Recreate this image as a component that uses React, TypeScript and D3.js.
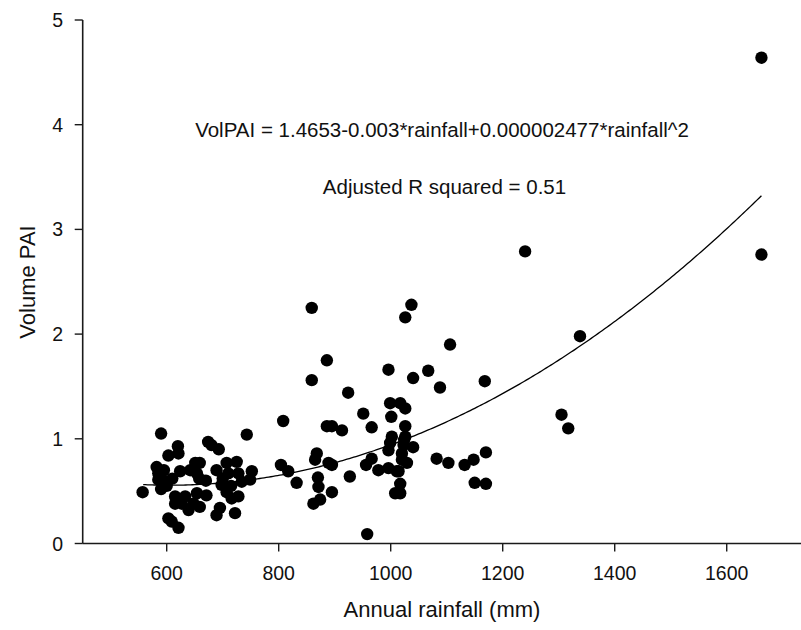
import React from "react";
import * as d3 from "d3";

const rainfall: number[] = [
  557, 590, 620, 603, 621, 582, 585, 591, 597, 585, 624, 642, 651, 654, 615, 627, 615, 633, 639, 648, 654, 603, 621, 609,
  595, 600, 610, 590,
  674, 743, 693, 659, 658, 689, 707, 725, 710, 728, 752, 749, 734, 698, 707, 716, 728, 671, 659, 695, 689, 722,
  680, 670, 700, 715,
  808, 804, 817, 832, 886, 895, 913, 868, 865, 889, 895, 870, 871, 895, 862, 874, 927,
  859, 886, 859, 924, 951, 966, 958, 966, 956, 978, 996, 1014,
  1037, 1026, 1106, 996, 1040, 1067, 1088, 999, 1017, 1026, 1001, 1026, 1002, 999, 996, 1026, 1023, 1020, 1040, 1029,
  1017, 1017, 1008, 1082, 1103, 1132, 1148, 1170, 1150, 1170, 1168, 1240, 1305, 1317, 1338, 1662, 1662,
  1011, 1020, 1024,
];
const volumePAI: number[] = [
  0.49, 1.05, 0.93, 0.84, 0.86, 0.73, 0.67, 0.62, 0.59, 0.61, 0.69, 0.70, 0.77, 0.67, 0.45, 0.38, 0.38, 0.45, 0.32, 0.38, 0.48, 0.24, 0.15, 0.21,
  0.70, 0.55, 0.62, 0.52,
  0.97, 1.04, 0.90, 0.77, 0.62, 0.70, 0.77, 0.78, 0.67, 0.67, 0.69, 0.61, 0.59, 0.56, 0.49, 0.43, 0.45, 0.46, 0.35, 0.34, 0.27, 0.29,
  0.94, 0.60, 0.62, 0.55,
  1.17, 0.75, 0.69, 0.58, 1.12, 1.12, 1.08, 0.86, 0.80, 0.77, 0.75, 0.63, 0.54, 0.49, 0.38, 0.42, 0.64,
  2.25, 1.75, 1.56, 1.44, 1.24, 1.11, 0.09, 0.81, 0.75, 0.70, 0.72, 0.69,
  2.28, 2.16, 1.90, 1.66, 1.58, 1.65, 1.49, 1.34, 1.34, 1.29, 1.21, 1.12, 1.02, 0.96, 0.89, 1.02, 0.94, 0.86, 0.92, 0.77,
  0.57, 0.48, 0.48, 0.81, 0.77, 0.75, 0.80, 0.87, 0.58, 0.57, 1.55, 2.79, 1.23, 1.10, 1.98, 4.64, 2.76,
  0.69, 0.80, 0.99,
];

const xTicks: number[] = [600, 800, 1000, 1200, 1400, 1600];
const yTicks: number[] = [0, 1, 2, 3, 4, 5];
// regression coefficients shown in the chart: a + b*x + c*x^2
const coefficients: number[] = [1.4653, -0.003, 0.000002477];
const fitRange: number[] = [558, 1662];

const equationText = "VolPAI = 1.4653-0.003*rainfall+0.000002477*rainfall^2";
const r2Text = "Adjusted R squared = 0.51";
const xTitle = "Annual rainfall (mm)";
const yTitle = "Volume PAI";

export default function App() {
  const W = 801;
  const H = 630;
  const x = d3.scaleLinear().domain([450, 1733]).range([82.7, 801.2]);
  const y = d3.scaleLinear().domain([0, 5]).range([543.5, 20]);
  const font = "Arial, 'Liberation Sans', Helvetica, sans-serif";
  const axisColor = "#1a1a1a";

  const fitXs = d3.range(fitRange[0], fitRange[1] + 0.1, 4);
  if (fitXs[fitXs.length - 1] !== fitRange[1]) fitXs.push(fitRange[1]);
  const fitPts: [number, number][] = fitXs.map((r) => [
    r,
    coefficients[0] + coefficients[1] * r + coefficients[2] * r * r,
  ]);
  const line = d3
    .line<[number, number]>()
    .x((d) => x(d[0]))
    .y((d) => y(d[1]))
    .curve(d3.curveLinear);

  const x0 = x.range()[0];
  const yBase = y(0);

  return (
    <svg
      width={W}
      height={H}
      style={{ position: "absolute", left: 0, top: 0, background: "#fff", display: "block" }}
    >
      <rect x={0} y={0} width={W} height={H} fill="#fff" />
      {/* points */}
      <g>
        {rainfall.map((r, i) => (
          <circle key={i} cx={x(r)} cy={y(volumePAI[i])} r={6.2} fill="#000" />
        ))}
      </g>
      {/* fit curve */}
      <path d={line(fitPts) || ""} fill="none" stroke="#000" strokeWidth={1.3} />

      {/* axes */}
      <line x1={x0} x2={W} y1={yBase} y2={yBase} stroke={axisColor} strokeWidth={1.6} />
      <line x1={x0} x2={x0} y1={y(5)} y2={yBase} stroke={axisColor} strokeWidth={1.6} />
      {xTicks.map((t) => (
        <g key={"x" + t}>
          <line x1={x(t)} x2={x(t)} y1={yBase} y2={yBase + 8} stroke={axisColor} strokeWidth={1.4} />
          <text x={x(t)} y={580} textAnchor="middle" fontFamily={font} fontSize={19.5} fill="#111">
            {t}
          </text>
        </g>
      ))}
      {yTicks.map((t) => (
        <g key={"y" + t}>
          <line x1={x0 - 8} x2={x0} y1={y(t)} y2={y(t)} stroke={axisColor} strokeWidth={1.4} />
          <text x={63} y={y(t) + 7} textAnchor="end" fontFamily={font} fontSize={19.5} fill="#111">
            {t}
          </text>
        </g>
      ))}

      {/* titles */}
      <text x={442} y={617} textAnchor="middle" fontFamily={font} fontSize={22} fill="#111">
        {xTitle}
      </text>
      <text
        transform={`translate(35,282) rotate(-90)`}
        textAnchor="middle"
        fontFamily={font}
        fontSize={22}
        fill="#111"
      >
        {yTitle}
      </text>

      {/* annotations */}
      <text x={442} y={137} textAnchor="middle" fontFamily={font} fontSize={20.5} fill="#111">
        {equationText}
      </text>
      <text x={444.5} y={193.5} textAnchor="middle" fontFamily={font} fontSize={20.5} fill="#111">
        {r2Text}
      </text>
    </svg>
  );
}
